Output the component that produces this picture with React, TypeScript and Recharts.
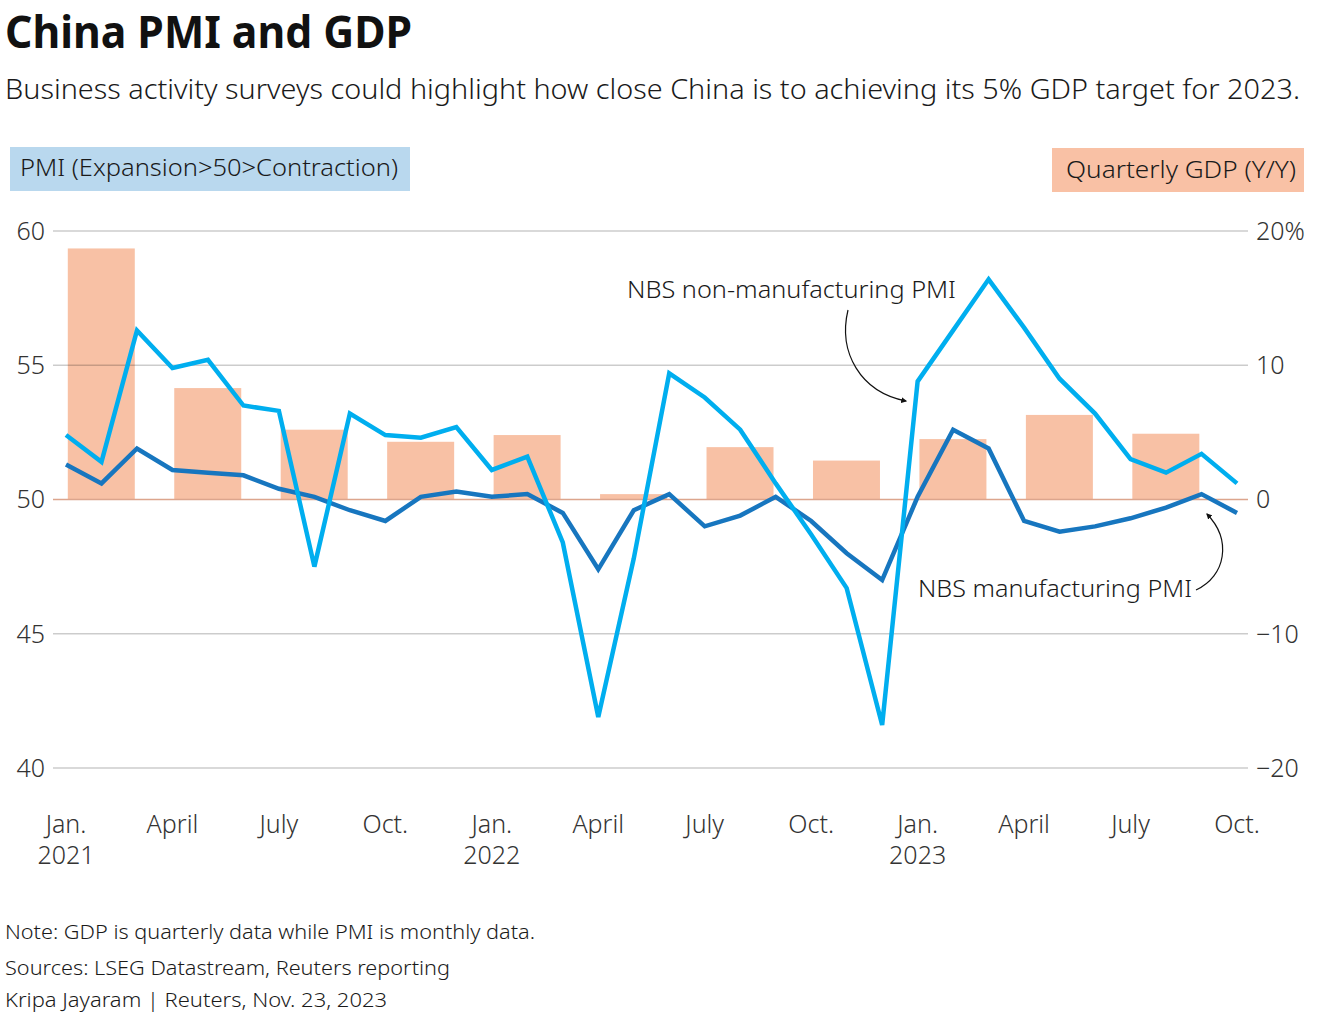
import React from 'react';
import { ComposedChart, Bar, Line, XAxis, YAxis, ReferenceLine } from 'recharts';

// Monthly PMI, Jan 2021 .. Oct 2023
const manufacturingPMI = [
  51.3, 50.6, 51.9, 51.1, 51.0, 50.9, 50.4, 50.1, 49.6, 49.2, 50.1, 50.3,
  50.1, 50.2, 49.5, 47.4, 49.6, 50.2, 49.0, 49.4, 50.1, 49.2, 48.0, 47.0,
  50.1, 52.6, 51.9, 49.2, 48.8, 49.0, 49.3, 49.7, 50.2, 49.5,
];
const nonManufacturingPMI = [
  52.4, 51.4, 56.3, 54.9, 55.2, 53.5, 53.3, 47.5, 53.2, 52.4, 52.3, 52.7,
  51.1, 51.6, 48.4, 41.9, 47.8, 54.7, 53.8, 52.6, 50.6, 48.7, 46.7, 41.6,
  54.4, 56.3, 58.2, 56.4, 54.5, 53.2, 51.5, 51.0, 51.7, 50.6,
];
// Quarterly GDP Y/Y %, Q1 2021 .. Q3 2023 (plotted at middle month of quarter)
const quarterlyGDP = [18.7, 8.3, 5.2, 4.3, 4.8, 0.4, 3.9, 2.9, 4.5, 6.3, 4.9];

const xTicks = [0, 3, 6, 9, 12, 15, 18, 21, 24, 27, 30, 33];
const xTickMonths = ['Jan.', 'April', 'July', 'Oct.', 'Jan.', 'April', 'July', 'Oct.', 'Jan.', 'April', 'July', 'Oct.'];
const xTickYears = ['2021', '', '', '', '2022', '', '', '', '2023', '', '', ''];
const leftTicks = [40, 45, 50, 55, 60];
const rightTicks = [-20, -10, 0, 10, 20];

const data = manufacturingPMI.map((m, i) => ({
  i,
  mfg: m,
  nonMfg: nonManufacturingPMI[i],
  gdp: i % 3 === 1 ? quarterlyGDP[(i - 1) / 3] : null,
}));

const FONT = '"Noto Sans", "Open Sans", sans-serif';
const TEXT = '#1a1a1a';
const BAR_W = 67;

const XTick = (props: any) => {
  const { x, y, payload } = props;
  const idx = xTicks.indexOf(payload.value);
  return (
    <g>
      <text x={x} y={y + 57} textAnchor="middle" fontSize={25} fill="#333" fontFamily={FONT} fontWeight={300}>
        {xTickMonths[idx]}
      </text>
      {xTickYears[idx] && (
        <text x={x} y={y + 88} textAnchor="middle" fontSize={25} fill="#333" fontFamily={FONT} fontWeight={300}>
          {xTickYears[idx]}
        </text>
      )}
    </g>
  );
};

const WideBar = (props: any) => {
  const { x, y, width, height, fill } = props;
  if (height == null || isNaN(height)) return null;
  const cx = x + width / 2;
  return <rect x={cx - BAR_W / 2} y={y} width={BAR_W} height={height} fill={fill} />;
};

const fmtRight = (v: number) => (v === 20 ? '20%' : v < 0 ? '\u2212' + Math.abs(v) : String(v));

export default function App() {
  return (
    <div style={{ position: 'absolute', left: 0, top: 0, width: 1320, height: 1024, background: '#fff', overflow: 'hidden' }}>
      <div style={{ position: 'absolute', left: 0, top: 0 }}>
        <ComposedChart
          width={1320}
          height={880}
          data={data}
          margin={{ top: 231, right: 10, bottom: 0, left: 8 }}
        >
          <XAxis
            dataKey="i"
            type="number"
            domain={[0, 33]}
            ticks={xTicks}
            padding={{ left: 13, right: 11 }}
            axisLine={false}
            tickLine={false}
            height={112}
            tick={<XTick />}
            interval={0}
          />
          <YAxis
            yAxisId="left"
            domain={[40, 60]}
            ticks={leftTicks}
            axisLine={false}
            tickLine={false}
            width={45}
            tick={{ fontSize: 25, fill: '#333', fontFamily: FONT, fontWeight: 300 }}
          />
          <YAxis
            yAxisId="right"
            orientation="right"
            domain={[-20, 20]}
            ticks={rightTicks}
            axisLine={false}
            tickLine={false}
            width={62}
            tickFormatter={fmtRight}
            tick={{ fontSize: 25, fill: '#333', fontFamily: FONT, fontWeight: 300, textAnchor: 'start' }}
          />
          <Bar yAxisId="right" dataKey="gdp" fill="#f8c1a5" shape={<WideBar />} isAnimationActive={false} />
          {leftTicks.filter((t) => t !== 50).map((t) => (
            <ReferenceLine key={t} yAxisId="left" y={t} stroke="rgba(0,0,0,0.2)" strokeWidth={1.3} />
          ))}
          <ReferenceLine yAxisId="left" y={50} stroke="#dca58d" strokeWidth={1.5} />
          <Line
            yAxisId="left"
            dataKey="mfg"
            stroke="#1776bf"
            strokeWidth={4.5}
            dot={false}
            strokeLinejoin="miter"
            isAnimationActive={false}
          />
          <Line
            yAxisId="left"
            dataKey="nonMfg"
            stroke="#00aeef"
            strokeWidth={4.5}
            dot={false}
            strokeLinejoin="miter"
            isAnimationActive={false}
          />
        </ComposedChart>
      </div>
      <svg
        width={1320}
        height={1024}
        style={{ position: 'absolute', left: 0, top: 0, pointerEvents: 'none' }}
        fontFamily={FONT}
      >
        <defs>
          <marker id="ah" viewBox="0 0 10 10" refX="8" refY="5" markerWidth="5" markerHeight="5" orient="auto">
            <path d="M0,0 L10,5 L0,10 z" fill="#111" />
          </marker>
        </defs>
        <text x={5} y={48} fontSize={44} fontWeight={700} fill="#111" textLength={407} lengthAdjust="spacingAndGlyphs">
          China PMI and GDP
        </text>
        <text x={5} y={99} fontSize={27} fontWeight={300} fill={TEXT} textLength={1295} lengthAdjust="spacingAndGlyphs">
          Business activity surveys could highlight how close China is to achieving its 5% GDP target for 2023.
        </text>
        <rect x={10} y={147} width={400} height={44} fill="#b9d8ee" />
        <text x={20} y={176} fontSize={24} fontWeight={300} fill={TEXT} textLength={378} lengthAdjust="spacingAndGlyphs">
          PMI (Expansion&gt;50&gt;Contraction)
        </text>
        <rect x={1052} y={148} width={252} height={44} fill="#f9c1a5" />
        <text x={1066} y={178} fontSize={24} fontWeight={300} fill={TEXT} textLength={230} lengthAdjust="spacingAndGlyphs">
          Quarterly GDP (Y/Y)
        </text>
        <text x={627} y={298} fontSize={24} fontWeight={300} fill={TEXT} textLength={329} lengthAdjust="spacingAndGlyphs">
          NBS non-manufacturing PMI
        </text>
        <path d="M848,310 C838,352 860,392 906,401" fill="none" stroke="#111" strokeWidth={1.2} markerEnd="url(#ah)" />
        <text x={918} y={597} fontSize={24} fontWeight={300} fill={TEXT} textLength={274} lengthAdjust="spacingAndGlyphs">
          NBS manufacturing PMI
        </text>
        <path d="M1196,590 C1226,576 1232,540 1207,514" fill="none" stroke="#111" strokeWidth={1.2} markerEnd="url(#ah)" />
        <text x={5} y={939} fontSize={20} fontWeight={300} fill={TEXT} textLength={530} lengthAdjust="spacingAndGlyphs">
          Note: GDP is quarterly data while PMI is monthly data.
        </text>
        <text x={5} y={975} fontSize={20} fontWeight={300} fill={TEXT} textLength={445} lengthAdjust="spacingAndGlyphs">
          Sources: LSEG Datastream, Reuters reporting
        </text>
        <text x={5} y={1007} fontSize={20} fontWeight={300} fill={TEXT} textLength={382} lengthAdjust="spacingAndGlyphs">
          Kripa Jayaram |  Reuters, Nov. 23, 2023
        </text>
      </svg>
    </div>
  );
}
